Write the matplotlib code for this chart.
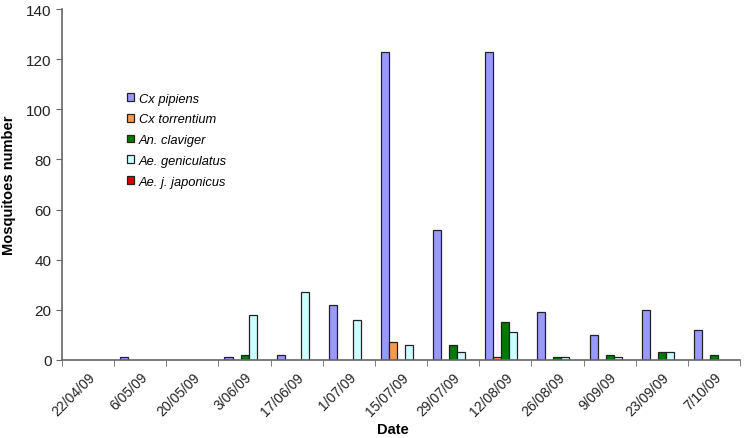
import matplotlib
matplotlib.use("Agg")
import matplotlib.pyplot as plt
import numpy as np

plt.rcParams['font.family'] = ['Liberation Sans', 'DejaVu Sans']

dates = ["22/04/09", "6/05/09", "20/05/09", "3/06/09", "17/06/09", "1/07/09",
         "15/07/09", "29/07/09", "12/08/09", "26/08/09", "9/09/09", "23/09/09", "7/10/09"]
series_names = ["Cx pipiens", "Cx torrentium", "An. claviger", "Ae. geniculatus", "Ae. j. japonicus"]
cx_pipiens = [0, 1, 0, 1, 2, 22, 123, 52, 123, 19, 10, 20, 12]
cx_torrentium = [0, 0, 0, 0, 0, 0, 7, 0, 1, 0, 0, 0, 0]
an_claviger = [0, 0, 0, 2, 0, 0, 0, 6, 15, 1, 2, 3, 2]
ae_geniculatus = [0, 0, 0, 18, 27, 16, 6, 3, 11, 1, 1, 3, 0]
ae_japonicus = [0, 0, 0, 0, 0, 0, 0, 0, 0, 0, 0, 0, 0]
colors = ["#9999FF", "#F59A4F", "#007A00", "#CCFFFF", "#E00000"]

fig = plt.figure(figsize=(7.45, 4.39), dpi=100)
ax = fig.add_axes([62/745, 1-361/439, (740-62)/745, (361-10)/439])

x = np.arange(len(dates))
w = 8/52
all_series = [cx_pipiens, cx_torrentium, an_claviger, ae_geniculatus, ae_japonicus]
for i, (vals, name, c) in enumerate(zip(all_series, series_names, colors)):
    vals = np.array(vals)
    lw = np.where(vals > 0, 0.9, 0.0)
    ax.bar(x - 2*w + i*w, vals, width=w, color=c, edgecolor="#222222",
           linewidth=lw, label=name, zorder=2)

ax.set_xlim(-0.5, len(dates) - 0.5)
ax.set_ylim(0, 140)
ax.set_yticks(range(0, 141, 20))
ax.set_xticks(x)
ax.set_xticklabels(dates, rotation=45, ha='right', rotation_mode='anchor', fontsize=10, color='#222222')
ax.tick_params(axis='x', length=0, pad=7)
ax.set_xticks(np.arange(-0.5, len(dates), 1), minor=True)
ax.tick_params(axis='x', which='minor', length=4, direction='out', color='#666666')
ax.tick_params(axis='y', length=4, direction='out', color='#666666', labelsize=11, labelcolor='#222222')

for s in ['top', 'right']:
    ax.spines[s].set_visible(False)
for s in ['left', 'bottom']:
    ax.spines[s].set_color('#666666')
    ax.spines[s].set_linewidth(1.2)

ax.set_ylabel("Mosquitoes number", fontweight='bold', fontsize=10.5, labelpad=7)
fig.text(393/745, 1-430/439, "Date", fontweight='bold', fontsize=10.5, ha='center', va='center')

handles, labels = ax.get_legend_handles_labels()
leg = ax.legend(handles, labels, loc='upper left', bbox_to_anchor=(0.078, 0.795),
                frameon=False, handlelength=0.55, handleheight=0.55, handletextpad=0.4,
                labelspacing=0.68, prop={'style': 'italic', 'size': 9.3})
for h in leg.legend_handles:
    h.set_linewidth(0.9)
    h.set_edgecolor("#222222")

fig.savefig("out.png", dpi=100)
